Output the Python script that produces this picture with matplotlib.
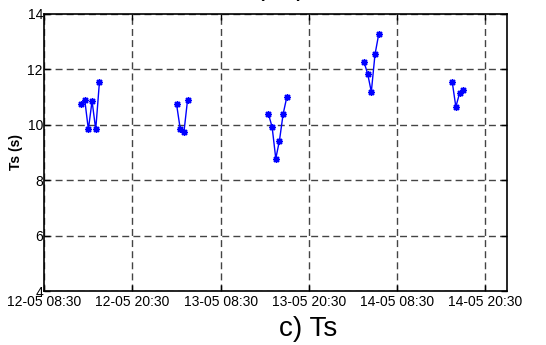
import numpy as np
import pandas as pd
import matplotlib
matplotlib.use("Agg")
import matplotlib.pyplot as plt
import matplotlib.dates as mdates

# ------------------------------------------
# Daten
# ------------------------------------------
zeiten = [
    ["2013-05-12 13:30", "2013-05-12 14:00", "2013-05-12 14:30", "2013-05-12 15:00", "2013-05-12 15:30", "2013-05-12 16:00"],
    ["2013-05-13 02:30", "2013-05-13 03:00", "2013-05-13 03:30", "2013-05-13 04:00"],
    ["2013-05-13 15:00", "2013-05-13 15:30", "2013-05-13 16:00", "2013-05-13 16:30", "2013-05-13 17:00", "2013-05-13 17:30"],
    ["2013-05-14 04:00", "2013-05-14 04:30", "2013-05-14 05:00", "2013-05-14 05:30", "2013-05-14 06:00"],
    ["2013-05-14 16:00", "2013-05-14 16:30", "2013-05-14 17:00", "2013-05-14 17:30"],
]
ts_werte = [
    [10.74, 10.91, 9.83, 10.86, 9.83, 11.53],
    [10.74, 9.85, 9.73, 10.91],
    [10.39, 9.92, 8.78, 9.43, 10.39, 11.00],
    [12.27, 11.84, 11.19, 12.54, 13.26],
    [11.56, 10.65, 11.13, 11.27],
]
x_ticks = pd.date_range("2013-05-12 08:30", "2013-05-14 20:30", freq="12h")
x_min = pd.Timestamp("2013-05-12 08:30")
x_max = pd.Timestamp("2013-05-14 23:30")
y_ticks = [4, 6, 8, 10, 12, 14]

# ------------------------------------------
# Diagramm
# ------------------------------------------
plt.rcParams["font.family"] = ["Liberation Sans", "DejaVu Sans"]

fig = plt.figure(figsize=(5.46, 3.45), dpi=100)
ax = fig.add_axes([0.0811, 0.1565, 0.848, 0.803])

for t, v in zip(zeiten, ts_werte):
    ax.plot(pd.to_datetime(t), v, color="#0000ff", linewidth=1.0,
            marker=(8, 2, 0), markersize=5, markeredgewidth=1.0)

ax.set_xlim(x_min, x_max)
ax.set_ylim(4, 14)
ax.set_xticks(x_ticks)
ax.xaxis.set_major_formatter(mdates.DateFormatter("%d-%m %H:%M"))
ax.set_yticks(y_ticks)

ax.grid(True, color="#444444", linestyle=(0, (5, 3)), linewidth=1.0)
ax.tick_params(direction="in", length=4, width=1, labelsize=10,
               top=True, right=True)
ax.tick_params(axis="y", pad=1)
ax.tick_params(axis="x", pad=3)
for s in ax.spines.values():
    s.set_linewidth(1.2)

ax.set_ylabel("Ts (s)", fontsize=10, fontweight="bold", labelpad=3)

# Titel unten und abgeschnittener Titel oben
fig.text(0.565, 0.01, "c) Ts", fontsize=20, ha="center", va="bottom",
         family=["Liberation Sans Narrow", "Liberation Sans", "DejaVu Sans"])
fig.text(0.51, 0.997, "b) Tp", fontsize=20, ha="center", va="bottom",
         family=["Liberation Sans Narrow", "Liberation Sans", "DejaVu Sans"])

fig.savefig("out.png", dpi=100)
